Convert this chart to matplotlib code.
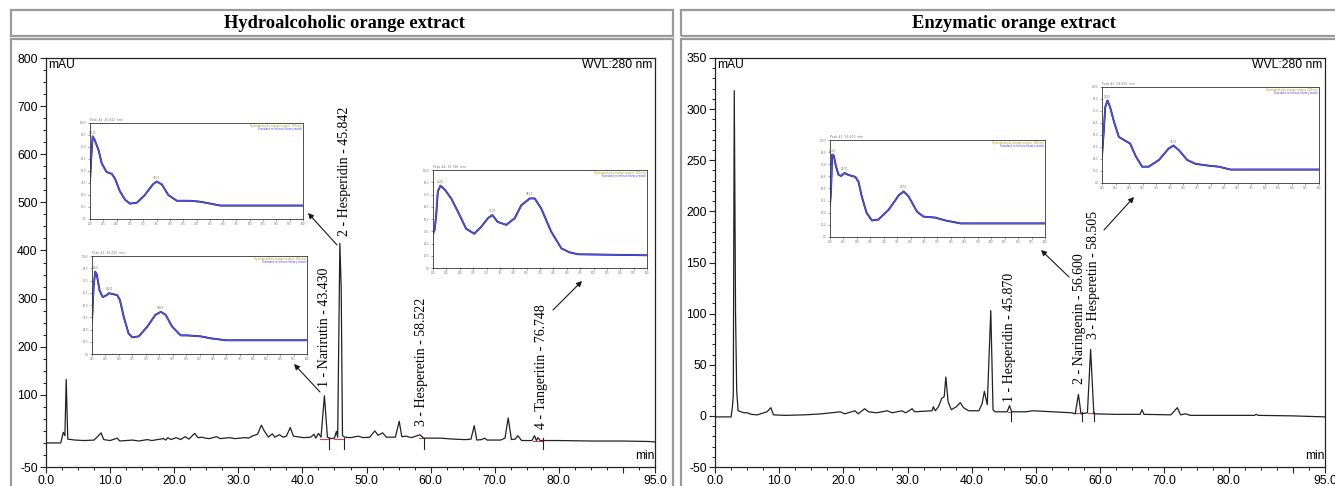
import matplotlib
matplotlib.use("Agg")
import matplotlib.pyplot as plt
from matplotlib import font_manager
from matplotlib.patches import Rectangle, FancyArrowPatch
from matplotlib.ticker import MultipleLocator, FixedLocator

# ---------------- data ----------------
# Hydroalcoholic extract chromatogram (retention time in min, absorbance in mAU)
hydro_t = [0.0, 2.3, 2.7, 2.95, 3.15, 3.4, 4.5, 6.0, 7.5, 8.1, 8.6, 9.0, 10.0, 11.1, 11.5,
           13.5, 14.5, 15.8, 16.5, 18.3, 18.7, 19.0, 19.5, 20.3, 21.0, 21.7, 22.3, 23.2, 23.7,
           24.4, 24.8, 25.5, 26.6, 27.2, 28.6, 29.5, 31.0, 31.6, 32.3, 33.0, 33.6, 34.0, 34.7,
           35.3, 35.7, 36.4, 37.0, 37.5, 38.1, 38.6, 40.2, 41.3, 41.8, 42.1, 42.5, 42.9, 43.43,
           43.9, 44.5, 45.0, 45.3, 45.5, 45.84, 46.05, 46.25, 46.6, 47.5, 48.7, 49.5, 50.5, 51.3,
           51.8, 52.5, 53.1, 54.5, 55.1, 55.5, 56.2, 57.0, 58.35, 58.9, 61.5, 63.5, 65.1, 65.6,
           66.3, 66.8, 67.2, 68.0, 68.4, 68.8, 70.9, 71.6, 72.1, 72.6, 73.2, 73.6, 74.2, 75.8,
           76.2, 76.5, 76.75, 77.1, 80.0, 85.0, 90.0, 94.0, 95.0]
hydro_v = [0, 0, 22, 15, 132, 8, 6, 5, 6, 14, 21, 7, 5, 10, 4,
           6, 4, 7, 5, 9, 6, 11, 7, 11, 7, 13, 8, 20, 11,
           12, 10, 9, 13, 9, 11, 9, 11, 10, 15, 18, 37, 26, 12,
           19, 12, 17, 12, 14, 32, 14, 11, 12, 18, 10, 20, 12, 98,
           12, 9, 10, 24, 12, 415, 320, 15, 12, 11, 14, 11, 12, 25,
           16, 21, 12, 12, 45, 13, 14, 11, 17, 10, 10, 8, 7, 7,
           8, 36, 6, 7, 10, 6, 6, 10, 52, 7, 8, 15, 5, 5,
           15, 5, 11, 5, 5, 4, 4, 3, 2]

# Enzymatic extract chromatogram
enz_t = [0.0, 2.5, 2.7, 2.85, 3.0, 3.2, 3.38, 3.6, 4.5, 5.1, 5.6, 6.6, 8.1, 8.7, 9.1, 10.9,
         14.0, 16.6, 19.5, 20.2, 21.8, 22.3, 23.3, 23.9, 25.2, 26.8, 27.6, 29.1, 29.7, 30.7,
         31.1, 33.8, 34.0, 34.3, 34.8, 35.3, 35.7, 35.95, 36.3, 36.8, 37.6, 38.2, 38.7, 39.5,
         41.1, 41.6, 41.95, 42.4, 42.95, 43.3, 43.6, 45.5, 45.87, 46.2, 48.4, 49.5, 55.6, 56.1,
         56.6, 57.0, 58.0, 58.5, 59.0, 62.4, 66.2, 66.5, 66.8, 71.0, 72.0, 72.5, 73.3, 74.0,
         84.0, 84.3, 84.6, 90.0, 95.0]
enz_v = [-1, -1, 8, 20, 318, 100, 24, 5, 3, 3, 1.5, 1, 4, 8, 1, 0.5,
         1, 2, 4, 2, 5, 2, 7, 4, 3, 5, 3, 5, 3, 7,
         4, 5, 9, 5, 9, 17, 19, 38, 14, 6, 9, 13, 8, 5,
         5, 12, 24, 11, 103, 6, 4, 4, 10, 4, 4, 5, 3, 2,
         21, 2, 3, 65, 2, 1.5, 1.5, 6, 1.5, 1, 8, 1, 2, 0.5,
         0.5, 1.5, 0.5, 0, -1]

hydro_labels = ["1 - Narirutin - 43.430", "2 - Hesperidin - 45.842",
                "3 - Hesperetin - 58.522", "4 - Tangeritin - 76.748"]
enz_labels = ["1 - Hesperidin - 45.870", "2 - Naringenin - 56.600",
              "3 - Hesperetin - 58.505"]
hydro_marks = [44.1, 46.5, 59.0, 77.5]
enz_marks = [46.1, 57.2, 59.1]
hydro_red = [(42.7, 44.1, 8), (45.0, 46.5, 9), (58.2, 59.0, 10), (76.0, 77.5, 5)]
enz_red = [(45.6, 46.1, 4), (56.1, 57.2, 3), (58.1, 59.1, 3)]

x_ticks = [0, 10, 20, 30, 40, 50, 60, 70, 80, 90, 95]
x_ticklabels = ["0.0", "10.0", "20.0", "30.0", "40.0", "50.0", "60.0", "70.0", "80.0", "", "95.0"]
hydro_yticks = [-50, 100, 200, 300, 400, 500, 600, 700, 800]
enz_yticks = [-50, 0, 50, 100, 150, 200, 250, 300, 350]

# UV spectra in the insets (wavelength nm, relative absorbance)
spec_a_nm = [200, 202, 205, 209, 216, 222, 231, 241, 247, 256, 266, 275, 288, 303, 318, 325,
             335, 347, 363, 388, 407, 426, 445, 600]
spec_a_val = [39, 61, 86, 82, 72, 58, 49, 47, 42, 29, 20, 16, 17, 25, 36, 39,
              36, 25, 19, 19, 18, 16, 14, 14]
spec_b_nm = [200, 203, 206, 209, 214, 220, 227, 232, 240, 247, 252, 259, 268, 275, 287, 303,
             318, 328, 337, 349, 365, 377, 402, 421, 449, 600]
spec_b_val = [33, 69, 84, 81, 65, 58, 60, 62, 61, 60, 55, 38, 21, 17, 18, 28,
              40, 43, 40, 28, 19, 19, 18, 16, 14, 14]
spec_c_nm = [200, 203, 206, 209, 214, 222, 234, 247, 262, 277, 290, 303, 311, 321, 337, 353,
             365, 381, 390, 402, 421, 440, 455, 471, 600]
spec_c_val = [35, 39, 54, 78, 84, 80, 71, 57, 40, 35, 42, 51, 54, 47, 44, 51,
              64, 71, 71, 61, 37, 20, 16, 14, 13]
spec_d_nm = [200, 202, 204, 207, 211, 216, 221, 227, 234, 247, 253, 259, 268, 278, 290, 309,
             328, 337, 346, 362, 374, 396, 415, 443, 600]
spec_d_val = [33, 49, 85, 84, 73, 64, 63, 66, 64, 62, 57, 42, 25, 17, 18, 28,
              43, 47, 42, 26, 21, 20, 17, 14, 14]
spec_e_nm = [200, 203, 206, 210, 215, 222, 231, 243, 252, 262, 274, 286, 305, 323, 332, 342,
             357, 372, 397, 415, 437, 600]
spec_e_val = [28, 52, 79, 86, 79, 64, 48, 44, 41, 28, 17, 17, 24, 36, 39, 34,
              24, 20, 18, 17, 14, 14]
spec_headers = ["Peak #2  45.842  min", "Peak #1  43.430  min", "Peak #4  76.748  min",
                "Peak #2  56.600  min", "Peak #3  58.505  min"]

# ---------------- fonts ----------------
names = {f.name for f in font_manager.fontManager.ttflist}
if "Liberation Sans Narrow" in names:
    TICKFONT, TICKSIZE = "Liberation Sans Narrow", 10
else:
    TICKFONT, TICKSIZE = "Liberation Sans", 8.7
SERIF = "Liberation Serif"

W, H = 1335, 486
fig = plt.figure(figsize=(W / 100, H / 100), dpi=100)
fig.patch.set_facecolor("white")


def fr(x0, y0, x1, y1):
    return [x0 / W, 1 - y1 / H, (x1 - x0) / W, (y1 - y0) / H]


def fp(x, y):
    return (x / W, 1 - y / H)


# panel boxes
for (x0, y0, x1, y1) in [(11, 10, 673, 36), (11, 39, 673, 495), (681, 10, 1345, 36), (681, 39, 1345, 495)]:
    fig.add_artist(Rectangle(fp(x0, y1), (x1 - x0) / W, (y1 - y0) / H, transform=fig.transFigure,
                             fill=False, edgecolor="#9a9a9a", lw=1.6))
fig.text(344 / W, 1 - 23 / H, "Hydroalcoholic orange extract", ha="center", va="center",
         family=SERIF, fontweight="bold", fontsize=13.3)
fig.text(1014 / W, 1 - 23 / H, "Enzymatic orange extract", ha="center", va="center",
         family=SERIF, fontweight="bold", fontsize=13.3)


def chrom_axes(rect, t, v, ylim, yticks, yminor, labels, label_pos, marks, reds, mark_drop):
    ax = fig.add_axes(rect)
    ax.plot(t, v, color="#222222", lw=0.9, zorder=3)
    for (a, b, lev) in reds:
        ax.plot([a, b], [lev, lev], color="#e04040", lw=0.8, zorder=2)
    for m in marks:
        ax.plot([m, m], [mark_drop[0], mark_drop[1]], color="#222222", lw=0.8, zorder=3)
    ax.set_xlim(0, 95)
    ax.set_ylim(*ylim)
    ax.xaxis.set_major_locator(FixedLocator(x_ticks))
    ax.set_xticklabels(x_ticklabels)
    ax.xaxis.set_minor_locator(MultipleLocator(2.5))
    ax.yaxis.set_major_locator(FixedLocator(yticks))
    ax.set_yticklabels([str(y) for y in yticks])
    ax.yaxis.set_minor_locator(MultipleLocator(yminor))
    ax.tick_params(axis="both", which="major", direction="out", length=4.5, width=0.8,
                   color="#222222", pad=1.5)
    ax.tick_params(axis="both", which="minor", direction="out", length=2.5, width=0.7, color="#222222")
    for lab in ax.get_xticklabels() + ax.get_yticklabels():
        lab.set_family(TICKFONT)
        lab.set_fontsize(TICKSIZE)
    for s in ax.spines.values():
        s.set_color("#222222")
        s.set_linewidth(0.9)
    ax.text(0.003, 0.997, "mAU", transform=ax.transAxes, ha="left", va="top",
            family=TICKFONT, fontsize=TICKSIZE)
    ax.text(0.996, 0.997, "WVL:280 nm", transform=ax.transAxes, ha="right", va="top",
            family=TICKFONT, fontsize=TICKSIZE)
    ax.text(0.999, 0.012, "min", transform=ax.transAxes, ha="right", va="bottom",
            family=TICKFONT, fontsize=TICKSIZE)
    for lab, (x, y) in zip(labels, label_pos):
        ax.text(x, y, lab, rotation=90, ha="center", va="bottom", family=SERIF, fontsize=10, zorder=4)
    return ax


axl = chrom_axes(fr(46, 58, 655, 467), hydro_t, hydro_v, (-50, 800), hydro_yticks, 25,
                 hydro_labels, [(43.5, 116), (46.5, 430), (58.6, 35), (77.3, 29)],
                 hydro_marks, hydro_red, (10, -12))
axr = chrom_axes(fr(715, 58, 1325, 467), enz_t, enz_v, (-50, 350), enz_yticks, 10,
                 enz_labels, [(45.9, 14), (56.8, 31), (58.9, 75)],
                 enz_marks, enz_red, (4, -5))


def inset(rect, nm, val, header):
    ax = fig.add_axes(rect, zorder=5)
    ax.set_facecolor("white")
    ax.plot(nm, val, color="#1a1a1a", lw=1.35, solid_joinstyle="round")
    ax.plot(nm, val, color="#4d4dff", lw=1.0, solid_joinstyle="round")
    ax.set_xlim(200, 600)
    ax.set_ylim(0, 100)
    ax.xaxis.set_major_locator(MultipleLocator(25))
    ax.yaxis.set_major_locator(MultipleLocator(12.5))
    ax.tick_params(axis="both", which="major", direction="out", length=1.5, width=0.4,
                   color="#555555", labelsize=1.8, labelcolor="#777777", pad=1)
    ax.set_xticklabels([f"{x:.0f}" for x in ax.get_xticks()])
    ax.set_yticklabels([f"{y:.1f}" for y in ax.get_yticks()])
    for s in ax.spines.values():
        s.set_color("#333333")
        s.set_linewidth(0.6)
    ax.text(0.0, 1.015, header, transform=ax.transAxes, ha="left", va="bottom",
            fontsize=2.2, color="#777777")
    ax.text(0.995, 0.985, "Hydroalcoholic orange extract  280 nm", transform=ax.transAxes,
            ha="right", va="top", fontsize=1.9, color="#a8a000")
    ax.text(0.995, 0.955, "Standard reference library match", transform=ax.transAxes,
            ha="right", va="top", fontsize=1.9, color="#4040ff")
    # label spectral maxima
    for i in range(1, len(val) - 1):
        if val[i] > val[i - 1] and val[i] >= val[i + 1] and val[i] > 30:
            ax.text(nm[i], val[i] + 2, f"{nm[i]:.1f}", ha="center", va="bottom",
                    fontsize=1.8, color="#666666")
    return ax


inset(fr(90, 123, 303, 219), spec_a_nm, spec_a_val, spec_headers[0])
inset(fr(92, 256, 307, 354), spec_b_nm, spec_b_val, spec_headers[1])
inset(fr(433, 170, 647, 268), spec_c_nm, spec_c_val, spec_headers[2])
inset(fr(830, 140, 1045, 237), spec_d_nm, spec_d_val, spec_headers[3])
inset(fr(1102, 87, 1319, 183), spec_e_nm, spec_e_val, spec_headers[4])

# arrows from peak labels to the spectra
for (x0, y0, x1, y1) in [(320, 392, 294, 364), (337, 245, 308, 213), (553, 310, 582, 281),
                         (1069, 277, 1041, 250), (1104, 230, 1134, 197)]:
    fig.add_artist(FancyArrowPatch(fp(x0, y0), fp(x1, y1), transform=fig.transFigure,
                                   arrowstyle="-|>", mutation_scale=8, lw=0.8, color="#1a1a1a",
                                   shrinkA=0, shrinkB=0))

fig.savefig("out.png", dpi=100)
